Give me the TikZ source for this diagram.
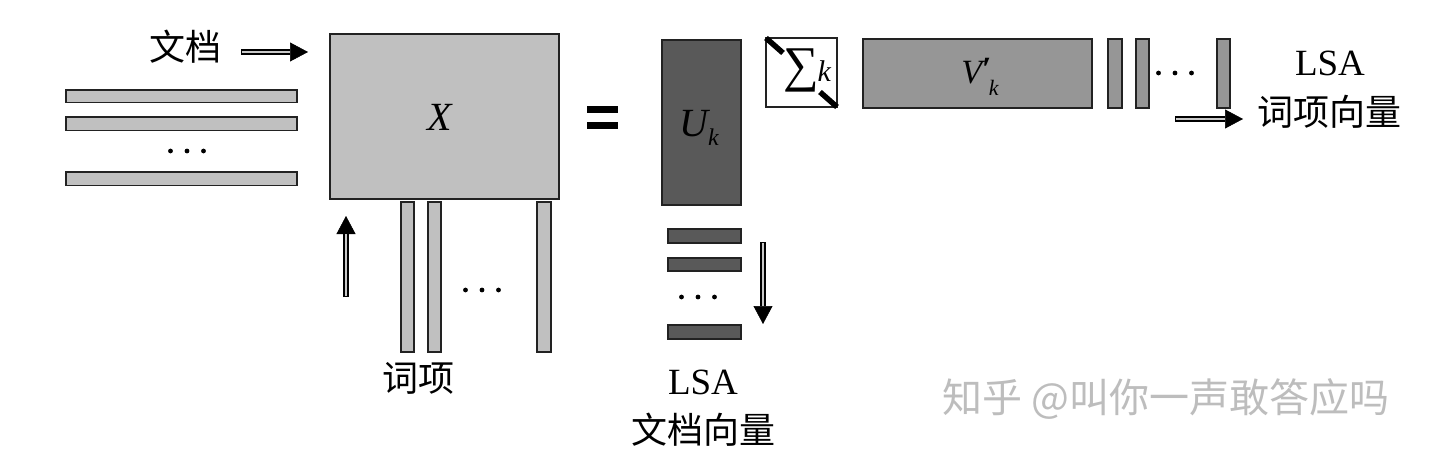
\documentclass[tikz,border=0pt]{standalone}
\usepackage{fontspec}
\setmainfont{Liberation Serif}
\newfontfamily\cjk{Noto Sans CJK SC}
\usetikzlibrary{arrows.meta}
\definecolor{lgray}{HTML}{C0C0C0}
\definecolor{mgray}{HTML}{969696}
\definecolor{dgray}{HTML}{595959}
\definecolor{edgec}{HTML}{222222}
\definecolor{wmark}{HTML}{BDBDBD}
\begin{document}
\begin{tikzpicture}[x=1pt,y=-1pt,
  box/.style={draw=edgec,line width=1.3pt,inner sep=0pt,outer sep=0pt,anchor=north west},
  lightbox/.style={box,fill=lgray},
  midbox/.style={box,fill=mgray},
  darkbox/.style={box,fill=dgray},
  lbl/.style={inner sep=0pt,outer sep=0pt,font=\fontsize{37}{40}\selectfont},
  cjklbl/.style={inner sep=0pt,outer sep=0pt,font=\cjk\fontsize{36}{40}\selectfont},
  arrowouter/.style={line width=6pt,draw=black,-{Triangle[length=18pt,width=19pt,line width=0.5pt]}},
  arrowinner/.style={line width=2.4pt,draw=lgray!85,shorten >=18pt,shorten <=0.8pt},
  diagmark/.style={line width=5.5pt,draw=black}]
\useasboundingbox (0,0) rectangle (1440,457);
\fill[white] (0,0) rectangle (1440,457);

% document label and arrow
\node[cjklbl] (lblDoc) at (185,47) {文档};
\coordinate (docA) at (241,52);
\coordinate (docB) at (308,52);
\draw[arrowouter] (docA) -- (docB);
\draw[arrowinner] (docA) -- (docB);

% document rows
\node[lightbox,minimum width=231pt,minimum height=12.5pt] (row1) at (66,90) {};
\node[lightbox,minimum width=231pt,minimum height=13.5pt] (row2) at (66,117) {};
\coordinate (rowdots) at (187,151);
\node[lightbox,minimum width=231pt,minimum height=13.5pt] (row3) at (66,172) {};

% X matrix
\node[lightbox,minimum width=229pt,minimum height=165pt] (X) at (330,34) {};
\node[lbl,font=\fontsize{40}{40}\selectfont] (Xlbl) at (440,117) {\itshape X};

% term columns
\node[lightbox,minimum width=13pt,minimum height=150pt] (col1) at (401,202) {};
\node[lightbox,minimum width=13pt,minimum height=150pt] (col2) at (428,202) {};
\coordinate (coldots) at (482,290);
\node[lightbox,minimum width=14pt,minimum height=150pt] (col3) at (537,202) {};
\coordinate (upA) at (346,297);
\coordinate (upB) at (346,216);
\draw[arrowouter] (upA) -- (upB);
\draw[arrowinner] (upA) -- (upB);
\node[cjklbl] (lblTerm) at (418,378) {词项};

% equals sign
\fill[black] (587,106) rectangle (618,113);
\fill[black] (587,122) rectangle (618,129);

% U_k
\node[darkbox,minimum width=79pt,minimum height=165pt] (U) at (662,40) {};
\node[lbl,font=\fontsize{40}{40}\selectfont] (Ulbl) at (699,128) {\itshape U\raisebox{-0.24em}{\fontsize{24}{24}\selectfont k}};
\node[darkbox,minimum width=73pt,minimum height=14pt] (urow1) at (668,229) {};
\node[darkbox,minimum width=73pt,minimum height=13pt] (urow2) at (668,258) {};
\coordinate (udots) at (698,297);
\node[darkbox,minimum width=73pt,minimum height=14pt] (urow3) at (668,325) {};
\coordinate (dnA) at (763,242);
\coordinate (dnB) at (763,324);
\draw[arrowouter] (dnA) -- (dnB);
\draw[arrowinner] (dnA) -- (dnB);
\node[lbl] (lblLSA1) at (703,382) {LSA};
\node[cjklbl] (lblDocVec) at (703,430) {文档向量};

% Sigma_k
\node[box,fill=white,minimum width=71pt,minimum height=69pt] (S) at (766,38) {};
\draw[diagmark] (S.north west) -- ++(17,15);
\draw[diagmark] (S.south east) -- ++(-17,-15);
\node[lbl,font=\fontsize{50}{50}\selectfont] (Slbl) at (807,70) {\symbol{"2211}\kern-0.02em\raisebox{0em}{\fontsize{30}{30}\selectfont\itshape k}};

% V'_k
\node[midbox,minimum width=229pt,minimum height=69pt] (V) at (863,39) {};
\node[lbl,font=\fontsize{34}{34}\selectfont] (Vlbl) at (980,77) {\itshape V\makebox[0pt][l]{\raisebox{0.08em}{\fontsize{34}{34}\selectfont\upshape\bfseries\symbol{"2032}}}\raisebox{-0.36em}{\fontsize{22}{22}\selectfont\itshape\kern0.3em k}};
\node[midbox,minimum width=14pt,minimum height=69pt] (vcol1) at (1108,39) {};
\node[midbox,minimum width=13pt,minimum height=69pt] (vcol2) at (1136,39) {};
\coordinate (vdots) at (1175,73);
\node[midbox,minimum width=13pt,minimum height=69pt] (vcol3) at (1217,39) {};
\coordinate (rtA) at (1175,119);
\coordinate (rtB) at (1243,119);
\draw[arrowouter] (rtA) -- (rtB);
\draw[arrowinner] (rtA) -- (rtB);
\node[lbl] (lblLSA2) at (1330,63) {LSA};
\node[cjklbl] (lblTermVec) at (1329,112) {词项向量};

% ellipsis dots
\foreach \c in {rowdots,coldots,udots,vdots}{
  \foreach \dx in {-16.5,0,16.5}{
    \fill[black] ([xshift=\dx pt]\c) circle (2.4pt);
  }
}

% watermark
\node[inner sep=0pt,text=wmark,font=\cjk\fontsize{40}{44}\selectfont] (wm) at (1166,399) {知乎 @叫你一声敢答应吗};
\end{tikzpicture}
\end{document}
